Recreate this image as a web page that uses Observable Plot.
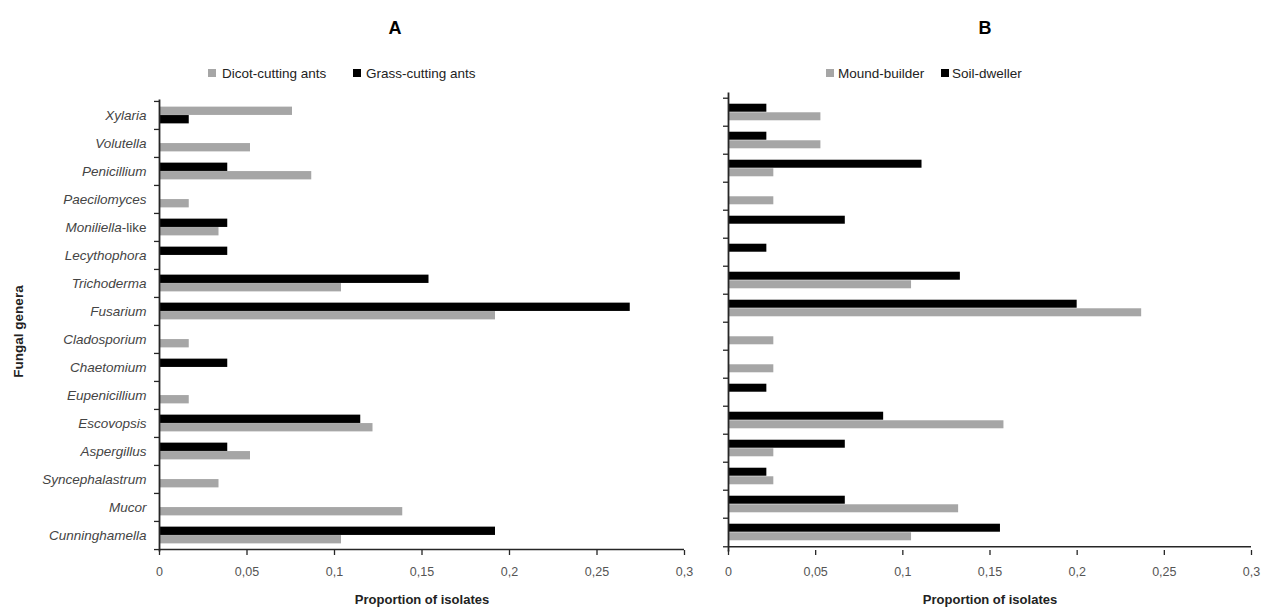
<!DOCTYPE html>
<html><head><meta charset="utf-8">
<script src="https://cdn.jsdelivr.net/npm/d3@7"></script>
<script src="https://cdn.jsdelivr.net/npm/@observablehq/plot@0.6"></script>
<style>
body{margin:0;background:#fff;font-family:"Liberation Sans",Arial,sans-serif;}
#root{position:relative;width:1264px;height:612px;overflow:hidden;background:#fff;}
.abs{position:absolute;}
.title{font-weight:bold;font-size:18px;color:#000;transform:translate(-50%,-50%);}
.ltext{font-size:13.5px;color:#222;white-space:nowrap;transform:translateY(-50%);}
.sw{width:8px;height:8px;transform:translateY(-50%);}
</style></head><body><div id="root"></div>
<script>
// ---- data ----
const genera = ["Xylaria","Volutella","Penicillium","Paecilomyces","Moniliella-like","Lecythophora","Trichoderma","Fusarium","Cladosporium","Chaetomium","Eupenicillium","Escovopsis","Aspergillus","Syncephalastrum","Mucor","Cunninghamella"];
const dicotCutting = [0.076,0.052,0.087,0.017,0.034,0,0.104,0.192,0.017,0,0.017,0.122,0.052,0.034,0.139,0.104];
const grassCutting = [0.017,0,0.039,0,0.039,0.039,0.154,0.269,0,0.039,0,0.115,0.039,0,0,0.192];
const moundBuilder = [0.053,0.053,0.026,0.026,0,0,0.105,0.237,0.026,0.026,0,0.158,0.026,0.026,0.132,0.105];
const soilDweller  = [0.022,0.022,0.111,0,0.067,0.022,0.133,0.2,0,0,0.022,0.089,0.067,0.022,0.067,0.156];
const xTicks = [0,0.05,0.1,0.15,0.2,0.25,0.3];
const xTickLabels = ["0","0,05","0,1","0,15","0,2","0,25","0,3"];
const panelTitles = ["A","B"];
const seriesNamesA = ["Dicot-cutting ants","Grass-cutting ants"];
const seriesNamesB = ["Mound-builder","Soil-dweller"];
const xLabel = "Proportion of isolates";
const yLabel = "Fungal genera";
// rows where the grey bar is drawn above the black one
const greyOnTopA = ["Xylaria"];
const greyOnTopB = [];

const GREY = "#a6a6a6", BLACK = "#000000", AXIS = "#262626";
const root = document.getElementById("root");

function panel({left, width, mLeft, mRight, mTop, mBottom, grey, black, greyOnTop, labels}) {
  const H = 612;
  const bw = (H - mTop - mBottom) / genera.length;
  const rows = [];
  genera.forEach((g, i) => {
    const swap = greyOnTop.includes(g);
    if (black[i] > 0) rows.push({genus: g, value: black[i], fill: BLACK, slot: swap ? 1 : 0});
    if (grey[i] > 0) rows.push({genus: g, value: grey[i], fill: GREY, slot: swap ? 0 : 1});
  });
  const gapTop = bw * 0.2, barH = bw * 0.3;
  const last = genera[genera.length - 1];
  const marks = [
    Plot.barX(rows.filter(d => d.slot === 0), {x: "value", y: "genus", fill: d => d.fill,
      insetTop: gapTop, insetBottom: bw - gapTop - barH}),
    Plot.barX(rows.filter(d => d.slot === 1), {x: "value", y: "genus", fill: d => d.fill,
      insetTop: gapTop + barH, insetBottom: bw - gapTop - 2 * barH}),
    Plot.frame({anchor: "left", stroke: AXIS, strokeWidth: 1.8}),
    Plot.ruleY([last], {x1: 0, x2: 0.3, dy: bw / 2, stroke: AXIS, strokeWidth: 1.6}),
    Plot.axisY({ticks: genera, text: null, label: null, tickSize: 5, dy: -bw / 2, stroke: AXIS, strokeWidth: 1.3}),
    Plot.axisY({ticks: [last], text: null, label: null, tickSize: 5, dy: bw / 2, stroke: AXIS, strokeWidth: 1.3}),
    Plot.axisX({ticks: xTicks, tickFormat: d => xTickLabels[xTicks.indexOf(d)], tickSize: 5, tickPadding: 12,
      label: null, fontSize: 12.5, fill: "#555", stroke: AXIS, strokeWidth: 1.3}),
    Plot.text([xLabel], {frameAnchor: "bottom", dy: 53, fontWeight: "bold", fontSize: 13, fill: "#222"})
  ];
  if (labels) {
    marks.push(Plot.axisY({ticks: genera, tickSize: 0, tickPadding: 13, label: null, fontSize: 13.5, fill: "#444"}));
    marks.push(Plot.text([yLabel], {frameAnchor: "left", textAnchor: "middle", rotate: -90, dx: -141, dy: 6, fontWeight: "bold", fontSize: 13.5, fill: "#222"}));
  }
  const chart = Plot.plot({
    width, height: H,
    marginLeft: mLeft, marginRight: mRight, marginTop: mTop, marginBottom: mBottom,
    x: {domain: [0, 0.3], axis: null},
    y: {domain: genera, padding: 0, axis: null},
    style: {fontFamily: "Liberation Sans, Arial, sans-serif", fontSize: "11px", background: "transparent", overflow: "visible"},
    marks
  });
  chart.style.position = "absolute";
  chart.style.left = left + "px";
  chart.style.top = "0px";
  // italic genus names, "-like" upright
  d3.select(chart).selectAll("text").each(function() {
    const t = this.textContent;
    if (genera.includes(t) && this.closest("g[aria-label='y-axis tick label']")) {
      this.setAttribute("font-style", "italic");
      if (t === "Moniliella-like") {
        this.textContent = "";
        const a = document.createElementNS("http://www.w3.org/2000/svg", "tspan");
        a.setAttribute("font-style", "italic"); a.textContent = "Moniliella";
        const b = document.createElementNS("http://www.w3.org/2000/svg", "tspan");
        b.setAttribute("font-style", "normal"); b.textContent = "-like";
        this.appendChild(a); this.appendChild(b);
      }
    }
  });
  root.appendChild(chart);
}

panel({left: 0, width: 700, mLeft: 159, mRight: 16, mTop: 100, mBottom: 62,
  grey: dicotCutting, black: grassCutting, greyOnTop: greyOnTopA, labels: true});
panel({left: 700, width: 564, mLeft: 28, mRight: 13, mTop: 93, mBottom: 62,
  grey: moundBuilder, black: soilDweller, greyOnTop: greyOnTopB, labels: false});

function addDiv(cls, x, y, html, bg) {
  const d = document.createElement("div");
  d.className = "abs " + cls;
  d.style.left = x + "px"; d.style.top = y + "px";
  if (bg) d.style.background = bg;
  d.innerHTML = html;
  root.appendChild(d);
}
addDiv("title", 395, 28, panelTitles[0]);
addDiv("title", 985, 28, panelTitles[1]);
addDiv("sw", 208, 73, "", GREY); addDiv("ltext", 222, 73, seriesNamesA[0]);
addDiv("sw", 353, 73, "", BLACK); addDiv("ltext", 366, 73, seriesNamesA[1]);
addDiv("sw", 826, 73, "", GREY); addDiv("ltext", 838, 73, seriesNamesB[0]);
addDiv("sw", 941, 73, "", BLACK); addDiv("ltext", 952, 73, seriesNamesB[1]);
</script></body></html>
